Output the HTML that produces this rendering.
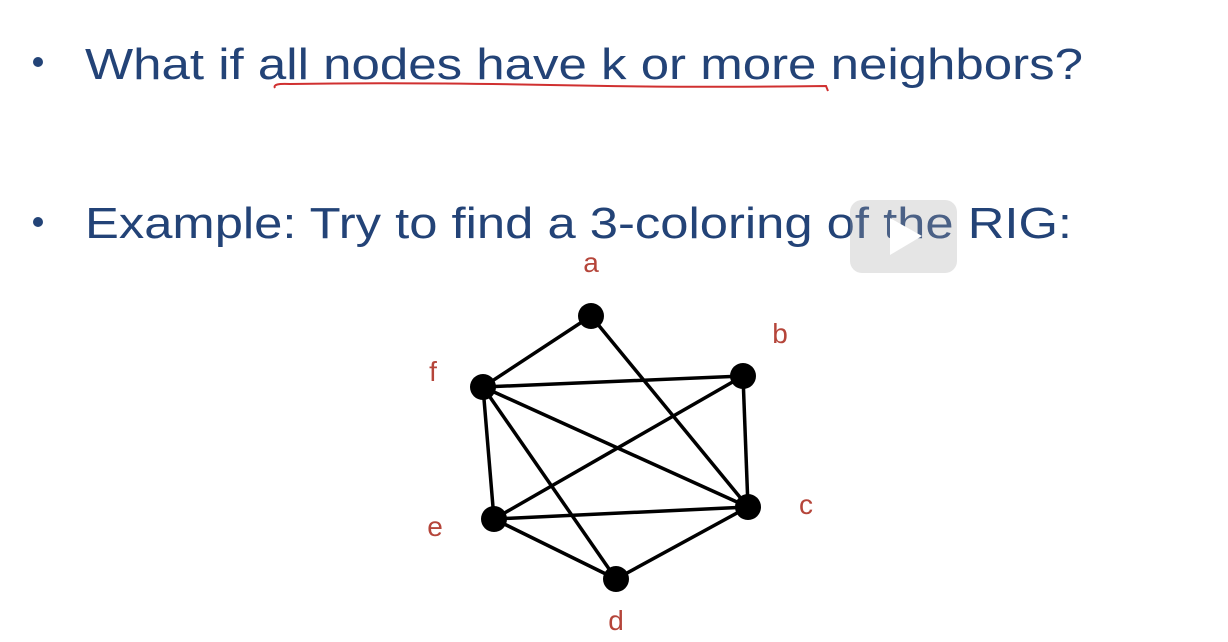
<!DOCTYPE html>
<html><head><meta charset="utf-8"><style>
html,body{margin:0;padding:0;background:#fff;}
svg{display:block;}
</style></head><body>
<svg width="1228" height="642" viewBox="0 0 1228 642" xmlns="http://www.w3.org/2000/svg">
<rect width="1228" height="642" fill="#fff"/>
<g font-family="'Liberation Sans', sans-serif" fill="#234377">
<circle cx="38" cy="62" r="5"/>
<text x="85" y="79" font-size="44" textLength="998" lengthAdjust="spacingAndGlyphs">What if all nodes have k or more neighbors?</text>
<circle cx="38" cy="222" r="5"/>
<text x="85" y="238" font-size="44" textLength="987" lengthAdjust="spacingAndGlyphs">Example: Try to find a 3-coloring of the RIG:</text>
</g>
<path d="M275 88 Q272 83 290 84 Q400 82 550 85 T826 86 L828 91" stroke="#d03030" stroke-width="2" fill="none"/>
<g>
<rect x="850" y="200" width="107" height="73" rx="12" fill="#aaa" fill-opacity="0.3"/>
<polygon points="890,218 890,255 922,236" fill="#fff"/>
</g>
<g id="graph"></g>
<g font-family="'Liberation Sans', sans-serif" font-size="28" fill="#b5453a" text-anchor="middle">
<text x="591" y="272">a</text>
<text x="780" y="343">b</text>
<text x="433" y="381">f</text>
<text x="806" y="514">c</text>
<text x="435" y="536">e</text>
<text x="616" y="630">d</text>
</g>
</svg>
<script>
const nodeNames=['a','b','c','d','e','f'];
const nodeX=[591,743,748,616,494,483];
const nodeY=[316,376,507,579,519,387];
const edges=[['a','f'],['a','c'],['f','b'],['f','c'],['f','e'],['f','d'],['b','e'],['b','c'],['e','c'],['e','d'],['d','c']];
const ns='http://www.w3.org/2000/svg';
const g=document.getElementById('graph');
const idx=n=>nodeNames.indexOf(n);
edges.forEach(([u,v])=>{
 const l=document.createElementNS(ns,'line');
 l.setAttribute('x1',nodeX[idx(u)]);l.setAttribute('y1',nodeY[idx(u)]);
 l.setAttribute('x2',nodeX[idx(v)]);l.setAttribute('y2',nodeY[idx(v)]);
 l.setAttribute('stroke','#000');l.setAttribute('stroke-width','3.5');
 
 
 g.appendChild(l);
});
nodeNames.forEach((n,i)=>{
 const c=document.createElementNS(ns,'circle');
 c.setAttribute('cx',nodeX[i]);c.setAttribute('cy',nodeY[i]);c.setAttribute('r','13');
 c.setAttribute('fill','#000');
 
 
 g.appendChild(c);
});
</script>
</body></html>
